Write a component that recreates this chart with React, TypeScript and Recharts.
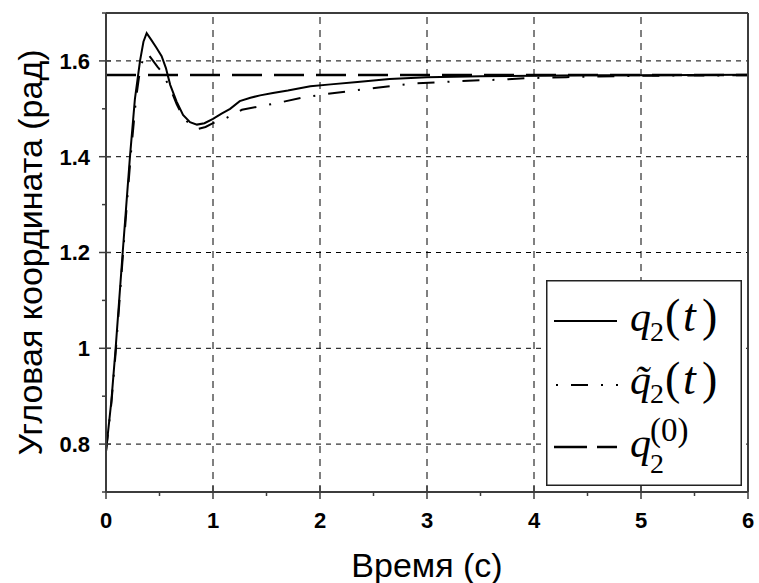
import React from 'react';
import { LineChart, Line, XAxis, YAxis, ReferenceLine, Legend } from 'recharts';

// q2(t) — solid
const tQ2 = [0, 0.05, 0.09, 0.156, 0.224, 0.27, 0.318, 0.35, 0.38, 0.42, 0.47, 0.52, 0.56, 0.6, 0.66, 0.72, 0.785, 0.85, 0.92, 1.0, 1.08, 1.16, 1.25, 1.35, 1.44, 1.56, 1.7, 1.91, 2.1, 2.35, 2.65, 3.0, 3.5, 4.0, 4.5, 5.0, 6.0];
const q2 = [0.785, 0.89, 1.0, 1.2, 1.4, 1.52, 1.6, 1.64, 1.658, 1.645, 1.628, 1.61, 1.585, 1.55, 1.515, 1.487, 1.472, 1.467, 1.47, 1.479, 1.49, 1.5, 1.516, 1.523, 1.528, 1.533, 1.538, 1.547, 1.551, 1.556, 1.562, 1.566, 1.568, 1.569, 1.57, 1.57, 1.571];

// q~2(t) — dash-dot
const tQ2Tilde = [0, 0.05, 0.09, 0.16, 0.23, 0.28, 0.32, 0.36, 0.39, 0.43, 0.48, 0.52, 0.56, 0.6, 0.66, 0.72, 0.78, 0.86, 0.93, 1.0, 1.11, 1.27, 1.41, 1.6, 1.83, 2.03, 2.28, 2.53, 2.87, 3.1, 3.31, 3.71, 3.93, 4.3, 5.0, 6.0];
const q2Tilde = [0.785, 0.885, 0.99, 1.2, 1.4, 1.52, 1.585, 1.612, 1.615, 1.603, 1.588, 1.577, 1.56, 1.543, 1.51, 1.483, 1.468, 1.458, 1.462, 1.47, 1.479, 1.498, 1.504, 1.512, 1.523, 1.53, 1.537, 1.544, 1.553, 1.555, 1.558, 1.561, 1.564, 1.566, 1.569, 1.57];

// q2^(0) — dashed reference
const tQ2Ref = [0, 6];
const q2Ref = [1.5708, 1.5708];

const xMajorTicks = [0, 1, 2, 3, 4, 5, 6];
const xMinorTicks = [0.5, 1.5, 2.5, 3.5, 4.5, 5.5];
const yMajorTicks = [0.8, 1, 1.2, 1.4, 1.6];
const yMinorTicks = [0.7, 0.9, 1.1, 1.3, 1.5, 1.7];
const xDomain = [0, 6];
const yDomain = [0.7, 1.7];
const xLabel = 'Время (с)';
const yLabel = 'Угловая координата (рад)';

const toRows = (ts: number[], vs: number[]) => ts.map((t, i) => ({ t, v: vs[i] }));

const AXIS = '#3c3c3c';
const SANS = '"Liberation Sans", Arial, sans-serif';
const SERIF = '"Liberation Serif", "Times New Roman", serif';

const isIn = (arr: number[], v: number) => arr.some((a) => Math.abs(a - v) < 1e-6);

const XTick = (props: any) => {
  const { x, y, payload } = props;
  const v = payload.value;
  const major = isIn(xMajorTicks, v);
  return (
    <g>
      <line x1={x} x2={x} y1={major ? y - 6 : y} y2={y + (major ? 7 : 4)} stroke={AXIS} strokeWidth={1.5} />
      {major && (
        <text x={x} y={y + 36} textAnchor="middle" fontFamily={SANS} fontWeight="bold" fontSize={22} fill="#000">
          {String(v)}
        </text>
      )}
    </g>
  );
};

const YTick = (props: any) => {
  const { x, y, payload } = props;
  const v = payload.value;
  const major = isIn(yMajorTicks, v);
  return (
    <g>
      <line x1={x - (major ? 7 : 4)} x2={major ? x + 5 : x} y1={y} y2={y} stroke={AXIS} strokeWidth={1.5} />
      {major && (
        <text x={x - 16} y={y} dy="0.36em" textAnchor="end" fontFamily={SANS} fontWeight="bold" fontSize={22} fill="#000">
          {String(v)}
        </text>
      )}
    </g>
  );
};

const TopTick = (props: any) => {
  const { x, y, payload } = props;
  if (!isIn(xMajorTicks, payload.value)) return <g />;
  return <line x1={x} x2={x} y1={y - 3} y2={y + 4} stroke={AXIS} strokeWidth={1.5} />;
};

const RightTick = (props: any) => {
  const { x, y, payload } = props;
  if (!isIn(yMajorTicks, payload.value)) return <g />;
  return <line x1={x - 4} x2={x + 3} y1={y} y2={y} stroke={AXIS} strokeWidth={1.5} />;
};

const XTitle = (props: any) => {
  const vb = props.viewBox || {};
  return (
    <text x={vb.x + vb.width / 2} y={vb.y + 85} textAnchor="middle" fontFamily={SANS} fontSize={34} fill="#000">
      {xLabel}
    </text>
  );
};

const YTitle = (props: any) => {
  const vb = props.viewBox || {};
  const cx = vb.x - 4;
  const cy = vb.y + vb.height / 2;
  return (
    <text x={cx} y={cy} transform={`rotate(-90, ${cx}, ${cy})`} textAnchor="middle" fontFamily={SANS} fontSize={34} fill="#000">
      {yLabel}
    </text>
  );
};

const LegendBox = () => (
  <svg width={196} height={206} style={{ display: 'block' }}>
    <rect x={0.75} y={0.75} width={194.5} height={204.5} fill="#fff" stroke="#222" strokeWidth={1.5} />
    <line x1={8} x2={71} y1={41} y2={41} stroke="#000" strokeWidth={2} />
    <line x1={10} x2={72} y1={105} y2={105} stroke="#000" strokeWidth={2} strokeDasharray="17 13 2 13" strokeDashoffset={30} />
    <line x1={8} x2={71} y1={167} y2={167} stroke="#000" strokeWidth={2.5} strokeDasharray="33 10" />
    <text fontFamily={SERIF} fill="#000">
      <tspan x={84} y={51} fontSize={42} fontStyle="italic">q</tspan>
      <tspan x={104} y={61} fontSize={28}>2</tspan>
      <tspan x={119} y={51} fontSize={46}>(</tspan>
      <tspan x={137} y={51} fontSize={46} fontStyle="italic">t</tspan>
      <tspan x={156} y={51} fontSize={46}>)</tspan>
    </text>
    <text fontFamily={SERIF} fill="#000">
      <tspan x={84} y={114} fontSize={42} fontStyle="italic">{'q\u0303'}</tspan>
      <tspan x={104} y={123} fontSize={28}>2</tspan>
      <tspan x={119} y={114} fontSize={46}>(</tspan>
      <tspan x={137} y={114} fontSize={46} fontStyle="italic">t</tspan>
      <tspan x={156} y={114} fontSize={46}>)</tspan>
    </text>
    <text fontFamily={SERIF} fill="#000">
      <tspan x={84} y={177} fontSize={42} fontStyle="italic">q</tspan>
      <tspan x={104} y={193} fontSize={28}>2</tspan>
      <tspan x={104} y={161} fontSize={33}>(0)</tspan>
    </text>
  </svg>
);

export default function App() {
  return (
    <div style={{ position: 'absolute', left: 0, top: 0, width: 759, height: 583, background: '#fff' }}>
      <LineChart width={759} height={583} margin={{ top: 12, right: 10, bottom: 51, left: 46 }}>
        <XAxis
          dataKey="t"
          type="number"
          domain={xDomain}
          ticks={[...xMajorTicks, ...xMinorTicks]}
          interval={0}
          tickSize={0}
          tickMargin={0}
          tickLine={false}
          tick={(p: any) => <XTick {...p} />}
          axisLine={{ stroke: AXIS, strokeWidth: 2 }}
          height={40}
          label={(p: any) => <XTitle {...p} />}
          allowDataOverflow
        />
        <XAxis
          xAxisId="top"
          orientation="top"
          dataKey="t"
          type="number"
          domain={xDomain}
          ticks={xMajorTicks}
          interval={0}
          tickSize={0}
          tickMargin={0}
          tickLine={false}
          tick={(p: any) => <TopTick {...p} />}
          axisLine={{ stroke: AXIS, strokeWidth: 2 }}
          height={1}
        />
        <YAxis
          type="number"
          domain={yDomain}
          ticks={[...yMajorTicks, ...yMinorTicks]}
          interval={0}
          tickSize={0}
          tickMargin={0}
          tickLine={false}
          tick={(p: any) => <YTick {...p} />}
          axisLine={{ stroke: AXIS, strokeWidth: 2 }}
          width={60}
          label={(p: any) => <YTitle {...p} />}
          allowDataOverflow
        />
        <YAxis
          yAxisId="right"
          orientation="right"
          type="number"
          domain={yDomain}
          ticks={yMajorTicks}
          interval={0}
          tickSize={0}
          tickMargin={0}
          tickLine={false}
          tick={(p: any) => <RightTick {...p} />}
          axisLine={{ stroke: AXIS, strokeWidth: 2 }}
          width={1}
        />
        {xMajorTicks.filter((v) => v > xDomain[0] && v < xDomain[1]).map((v) => (
          <ReferenceLine key={`gx${v}`} x={v} stroke="#000" strokeWidth={1} strokeDasharray="7 6" />
        ))}
        {yMajorTicks.map((v) => (
          <ReferenceLine key={`gy${v}`} y={v} stroke="#000" strokeWidth={1} strokeDasharray="5 5" />
        ))}
        <Line data={toRows(tQ2Ref, q2Ref)} dataKey="v" name="q2_0" type="linear" stroke="#000" strokeWidth={2.5} strokeDasharray="30 12" dot={false} activeDot={false} isAnimationActive={false} />
        <Line data={toRows(tQ2Tilde, q2Tilde)} dataKey="v" name="q2_tilde" type="linear" stroke="#000" strokeWidth={2} strokeDasharray="17 13 2 13" dot={false} activeDot={false} isAnimationActive={false} />
        <Line data={toRows(tQ2, q2)} dataKey="v" name="q2" type="linear" stroke="#000" strokeWidth={2} dot={false} activeDot={false} isAnimationActive={false} />
        <Legend
          layout="vertical"
          align="center"
          verticalAlign="middle"
          wrapperStyle={{ position: 'absolute', left: 546, top: 280, width: 196, height: 206, margin: 0, padding: 0 }}
          content={() => <LegendBox />}
        />
      </LineChart>
    </div>
  );
}
